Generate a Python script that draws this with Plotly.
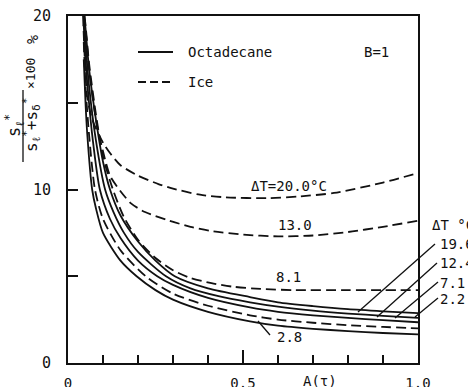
import plotly.graph_objects as go

# ---- data ----
A_oct_2_2 = [0.045, 0.05, 0.055, 0.069, 0.08, 0.1, 0.15, 0.196, 0.25, 0.3, 0.4, 0.52, 0.6, 0.7, 0.8, 0.9, 1.0]
V_oct_2_2 = [17.5, 15.0, 13.2, 10.0, 8.9, 7.5, 5.9, 5.0, 4.2, 3.65, 2.95, 2.4, 2.15, 1.97, 1.84, 1.73, 1.65]

A_oct_7_1 = [0.045, 0.05, 0.06, 0.07, 0.091, 0.12, 0.15, 0.2, 0.255, 0.3, 0.4, 0.52, 0.6, 0.7, 0.8, 0.9, 1.0]
V_oct_7_1 = [19.5, 17.5, 15.0, 13.0, 10.0, 8.3, 7.2, 5.9, 5.0, 4.5, 3.75, 3.2, 2.95, 2.75, 2.6, 2.47, 2.35]

A_oct_12_4 = [0.047, 0.05, 0.06, 0.08, 0.106, 0.13, 0.16, 0.2, 0.28, 0.35, 0.43, 0.52, 0.6, 0.7, 0.8, 0.9, 1.0]
V_oct_12_4 = [19.8, 18.5, 16.0, 12.8, 10.0, 8.7, 7.5, 6.4, 5.0, 4.3, 3.85, 3.5, 3.25, 3.02, 2.85, 2.72, 2.6]

A_oct_19_6 = [0.047, 0.05, 0.06, 0.08, 0.1, 0.12, 0.15, 0.2, 0.25, 0.305, 0.4, 0.52, 0.6, 0.7, 0.8, 0.9, 1.0]
V_oct_19_6 = [20.0, 19.3, 17.0, 14.0, 11.6, 10.0, 8.5, 7.0, 5.9, 5.0, 4.3, 3.8, 3.5, 3.28, 3.1, 2.98, 2.88]

A_ice_2_8 = [0.045, 0.05, 0.06, 0.077, 0.1, 0.15, 0.222, 0.3, 0.4, 0.52, 0.6, 0.7, 0.8, 0.9, 1.0]
V_ice_2_8 = [18.5, 16.0, 13.2, 10.0, 8.3, 6.5, 5.0, 4.0, 3.3, 2.75, 2.5, 2.32, 2.18, 2.08, 2.0]

A_ice_8_1 = [0.047, 0.05, 0.06, 0.08, 0.1, 0.13, 0.16, 0.2, 0.25, 0.3, 0.35, 0.41, 0.47, 0.55, 0.65, 0.8, 0.9, 1.0]
V_ice_8_1 = [20.0, 19.5, 17.3, 14.3, 11.9, 9.9, 8.4, 7.1, 6.05, 5.35, 4.9, 4.6, 4.4, 4.27, 4.2, 4.2, 4.2, 4.2]

A_ice_13_0 = [0.045, 0.05, 0.06, 0.08, 0.1, 0.12, 0.15, 0.18, 0.22, 0.29, 0.35, 0.41, 0.5, 0.6, 0.7, 0.8, 0.9, 1.0]
V_ice_13_0 = [20.0, 19.3, 17.0, 14.0, 12.2, 10.8, 9.9, 9.2, 8.7, 8.2, 7.85, 7.6, 7.4, 7.3, 7.35, 7.55, 7.85, 8.2]

A_ice_20_0 = [0.043, 0.048, 0.055, 0.07, 0.1, 0.12, 0.15, 0.2, 0.26, 0.3, 0.377, 0.45, 0.57, 0.66, 0.76, 0.9, 1.0]
V_ice_20_0 = [20.0, 17.5, 15.3, 14.0, 12.7, 12.1, 11.4, 10.8, 10.3, 10.05, 9.7, 9.55, 9.5, 9.6, 9.8, 10.4, 10.95]

x_tick_vals = [0, 0.5, 1.0]
x_tick_text = ["0", "0.5", "1.0"]
y_tick_vals = [0, 10, 20]
y_tick_text = ["0", "10", "20"]

ice_labels = ["\u0394T=20.0\u00b0C", "13.0", "8.1", "2.8"]
oct_labels = ["\u0394T \u00b0C", "19.6", "12.4", "7.1", "2.2"]

# ---- figure ----
W, H = 468, 387
ML, MR, MT, MB = 68, 50, 16, 24
PW, PH = W - ML - MR, H - MT - MB

def px(x):
    return (x - ML) / PW

def py(y):
    return (H - MB - y) / PH

FONT = "DejaVu Sans Mono"
BLACK = "#111111"
DASH = "10px,5px"

fig = go.Figure()

solid = [(A_oct_2_2, V_oct_2_2), (A_oct_7_1, V_oct_7_1), (A_oct_12_4, V_oct_12_4), (A_oct_19_6, V_oct_19_6)]
dashed = [(A_ice_2_8, V_ice_2_8), (A_ice_8_1, V_ice_8_1), (A_ice_13_0, V_ice_13_0), (A_ice_20_0, V_ice_20_0)]

for a, v in solid:
    fig.add_trace(go.Scatter(x=a, y=v, mode="lines", line=dict(color=BLACK, width=1.8, shape="spline", smoothing=0.7),
                             showlegend=False, hoverinfo="skip"))
for a, v in dashed:
    fig.add_trace(go.Scatter(x=a, y=v, mode="lines", line=dict(color=BLACK, width=1.8, dash=DASH, shape="spline", smoothing=0.7),
                             showlegend=False, hoverinfo="skip"))

shapes = []
# legend samples
shapes.append(dict(type="line", xref="paper", yref="paper", x0=px(138), x1=px(173), y0=py(52), y1=py(52),
                   line=dict(color=BLACK, width=2)))
shapes.append(dict(type="line", xref="paper", yref="paper", x0=px(138), x1=px(173), y0=py(82), y1=py(82),
                   line=dict(color=BLACK, width=2, dash="8px,4px")))
# pointer lines (right)
for (x0, y0, x1, y1) in [(435, 244, 358, 312), (437, 263, 377, 317), (438, 282, 395, 318), (438, 298, 415, 317)]:
    shapes.append(dict(type="line", xref="paper", yref="paper", x0=px(x0), y0=py(y0), x1=px(x1), y1=py(y1),
                       line=dict(color=BLACK, width=1.3)))
# pointer for 2.8
shapes.append(dict(type="line", xref="paper", yref="paper", x0=px(270), y0=py(335), x1=px(258), y1=py(321),
                   line=dict(color=BLACK, width=1.3)))
# y-axis title fraction bar
shapes.append(dict(type="line", xref="paper", yref="paper", x0=px(23), x1=px(23), y0=py(90), y1=py(162),
                   line=dict(color=BLACK, width=1.3)))

ann = []
def text(x, y, t, size=14, anchor="center", angle=0):
    ann.append(dict(x=px(x), y=py(y), xref="paper", yref="paper", text=t, showarrow=False,
                    xanchor=anchor, yanchor="middle", textangle=angle,
                    font=dict(family=FONT, size=size, color=BLACK)))

text(186, 52, "Octadecane", 14, "left")
text(186, 82, "Ice", 14, "left")
text(362, 52, "B=1", 14, "left")
text(289, 186, ice_labels[0], 14)
text(295, 225, ice_labels[1], 14)
text(288, 277, ice_labels[2], 14)
text(289, 337, ice_labels[3], 14)
text(430, 225, oct_labels[0], 14, "left")
text(438, 244, oct_labels[1], 14, "left")
text(438, 263, oct_labels[2], 14, "left")
text(438, 283, oct_labels[3], 14, "left")
text(438, 299, oct_labels[4], 14, "left")
text(320, 381, "A(\u03c4)", 14)
# y-axis title pieces (rotated)
text(14, 126, "s<sub>\u2113</sub><sup>*</sup>", 17, angle=-90)
text(32, 125, "s<sub>\u2113</sub><sup>*</sup>+s<sub>\u03b4</sub><sup>*</sup>", 16, angle=-90)
text(30, 74, "\u00d7100", 13, angle=-90)
text(33, 40, "%", 15, angle=-90)

fig.update_layout(
    width=W, height=H,
    margin=dict(l=ML, r=MR, t=MT, b=MB, autoexpand=False),
    paper_bgcolor="white", plot_bgcolor="white",
    shapes=shapes, annotations=ann,
    font=dict(family=FONT, size=14, color=BLACK),
)
fig.update_xaxes(range=[0, 1.0], showgrid=False, zeroline=False, showline=True, mirror=True,
                 linecolor=BLACK, linewidth=2, ticks="inside", ticklen=13, tickwidth=1.5, tickcolor=BLACK,
                 tickvals=x_tick_vals, ticktext=x_tick_text, ticklabelstandoff=6,
                 minor=dict(dtick=0.1, ticks="inside", ticklen=8, tickwidth=1.5, tickcolor=BLACK),
                 tickfont=dict(family=FONT, size=14, color=BLACK))
fig.update_yaxes(range=[0, 20], showgrid=False, zeroline=False, showline=True, mirror=True,
                 linecolor=BLACK, linewidth=2, ticks="inside", ticklen=10, tickwidth=1.5, tickcolor=BLACK,
                 tickvals=y_tick_vals, ticktext=y_tick_text, ticklabelstandoff=12,
                 minor=dict(dtick=5, ticks="inside", ticklen=10, tickwidth=1.5, tickcolor=BLACK),
                 tickfont=dict(family=FONT, size=15, color=BLACK))

fig.write_html("out.html", config={"displayModeBar": False},
               post_script="document.body.style.margin='0';document.body.style.overflow='hidden';")
